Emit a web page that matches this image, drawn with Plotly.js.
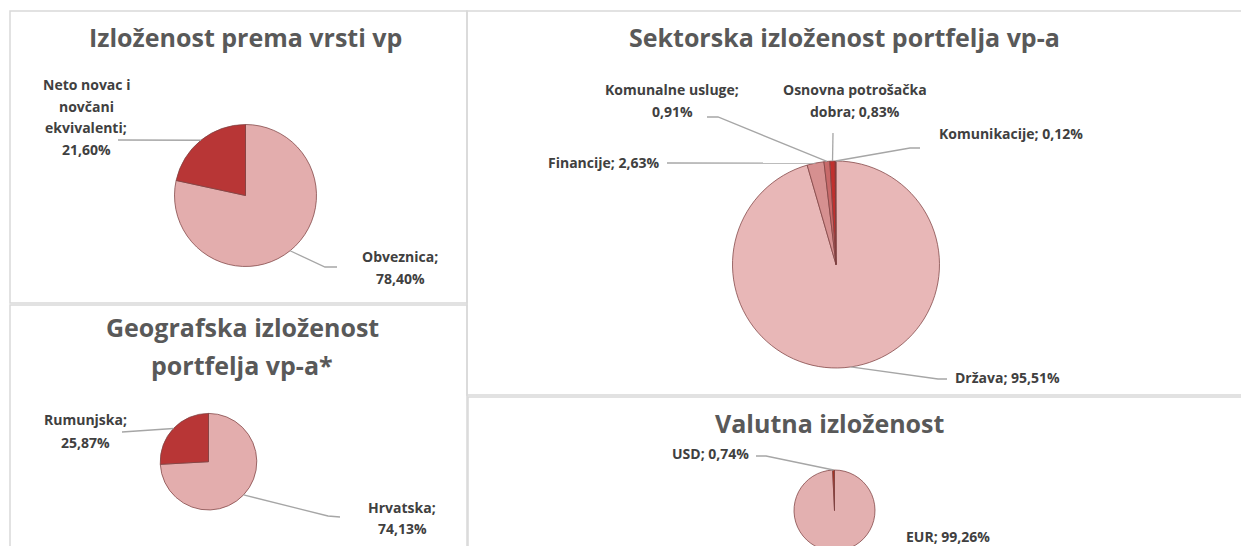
<!DOCTYPE html>
<html>
<head>
<meta charset="utf-8">
<script src="https://cdn.plot.ly/plotly-3.0.1.min.js"></script>
<style>
  html, body { margin: 0; padding: 0; background: #ffffff; overflow: hidden; }
  #chart { width: 1241px; height: 560px; }
</style>
</head>
<body>
<div id="chart"></div>
<script>
// ---------------- DATA ----------------
const vrstaLabels = ['Obveznica', 'Neto novac i novčani ekvivalenti'];
const vrstaValues = [78.40, 21.60];
const vrstaText = [['Obveznica;', ''], ['Neto novac i', 'novčani', 'ekvivalenti;', '']];

const geoLabels = ['Hrvatska', 'Rumunjska'];
const geoValues = [74.13, 25.87];
const geoText = [['Hrvatska;', ''], ['Rumunjska;', '']];

const sektorLabels = ['Država', 'Financije', 'Komunalne usluge', 'Osnovna potrošačka dobra', 'Komunikacije'];
const sektorValues = [95.51, 2.63, 0.91, 0.83, 0.12];
const sektorText = [['Država;'], ['Financije;'], ['Komunalne usluge;', ''], ['Osnovna potrošačka', 'dobra;'], ['Komunikacije;']];

const valutaLabels = ['EUR', 'USD'];
const valutaValues = [99.26, 0.74];
const valutaText = [['EUR;'], ['USD;']];

const titles = {
  vrsta: ['Izloženost prema vrsti vp'],
  geo: ['Geografska izloženost', 'portfelja vp-a*'],
  sektor: ['Sektorska izloženost portfelja vp-a'],
  valuta: ['Valutna izloženost']
};

// ---------------- LAYOUT CONFIG (pixels) ----------------
const W = 1241, H = 560;
const FONT = '"Open Sans", Lato, sans-serif';
const TITLE_SIZE = 25;
const LABEL_SIZE = 14;
const TITLE_COLOR = '#595959';
const LABEL_COLOR = '#404040';
const LEADER_COLOR = '#a6a6a6';
const BORDER_COLOR = '#d9d9d9';

const pies = [
  {
    key: 'vrsta', labels: vrstaLabels, values: vrstaValues, text: vrstaText,
    cx: 245.5, cy: 195.5, r: 71,
    colors: ['#e3adad', '#b83636'],
    title: { x: 245, y0: 37, dy: 38 },
    place: [
      { x: 400, y0: 257, dy: 21.5, leader: [[337, 267], [325, 267]] },
      { x: 86, y0: 84, dy: 22, leader: [[118, 140]] }
    ]
  },
  {
    key: 'geo', labels: geoLabels, values: geoValues, text: geoText,
    cx: 208.5, cy: 461.7, r: 48.3,
    colors: ['#e3adad', '#b83636'],
    title: { x: 242, y0: 327, dy: 38 },
    place: [
      { x: 402, y0: 507, dy: 21.5, leader: [[340, 517], [328, 516]] },
      { x: 85, y0: 419, dy: 23, leader: [[122, 432]] }
    ]
  },
  {
    key: 'sektor', labels: sektorLabels, values: sektorValues, text: sektorText,
    cx: 836, cy: 264.5, r: 103.5,
    colors: ['#e8b7b7', '#d69090', '#c86a6a', '#c0302e', '#9e1f1f'],
    title: { x: 845, y0: 37, dy: 38 },
    place: [
      { x: 1007, y0: 377, dy: 22, leader: [[947, 379], [938, 379]] },
      { x: 603, y0: 162, dy: 22, leader: [[667, 163]] },
      { x: 672, y0: 90, dy: 22, leader: [[707, 117], [718, 117]] },
      { x: 855, y0: 90, dy: 22, leader: [[833, 133]] },
      { x: 1011, y0: 133, dy: 22, leader: [[920, 148], [910, 148]] }
    ]
  },
  {
    key: 'valuta', labels: valutaLabels, values: valutaValues, text: valutaText,
    cx: 834.5, cy: 510.5, r: 40.5,
    colors: ['#e3b0b0', '#b0301e'],
    title: { x: 830, y0: 423, dy: 38 },
    place: [
      { x: 948, y0: 536, dy: 22, leader: null },
      { x: 710, y0: 453, dy: 22, leader: [[756, 456], [766, 456]] }
    ]
  }
];

const panels = [
  [10, 11, 467, 303],
  [10, 305, 467, 600],
  [467, 11, 1245, 395],
  [468, 397, 1245, 600]
];

// ---------------- HELPERS ----------------
const px = x => x / W;
const py = y => 1 - y / H;
const fmtPct = v => v.toFixed(2).replace('.', ',') + '%';

const traces = [];
const annotations = [];
const shapes = [];

panels.forEach(p => {
  shapes.push({
    type: 'rect', xref: 'paper', yref: 'paper',
    x0: px(p[0]), x1: px(p[2]), y0: py(p[1]), y1: py(p[3]),
    line: { color: BORDER_COLOR, width: 1.5 }, fillcolor: 'rgba(0,0,0,0)', layer: 'below'
  });
});

pies.forEach(pie => {
  traces.push({
    type: 'pie',
    labels: pie.labels,
    values: pie.values,
    sort: false,
    direction: 'clockwise',
    rotation: 0,
    textinfo: 'none',
    hoverinfo: 'label+percent',
    showlegend: false,
    marker: { colors: pie.colors, line: { color: 'rgba(125,65,65,0.75)', width: 1 } },
    domain: {
      x: [px(pie.cx - pie.r), px(pie.cx + pie.r)],
      y: [py(pie.cy + pie.r), py(pie.cy - pie.r)]
    }
  });

  titles[pie.key].forEach((line, i) => {
    annotations.push({
      xref: 'paper', yref: 'paper', x: px(pie.title.x), y: py(pie.title.y0 + i * pie.title.dy),
      xanchor: 'center', yanchor: 'middle', showarrow: false,
      text: line,
      font: { family: FONT, size: TITLE_SIZE, color: TITLE_COLOR, weight: 700 }
    });
  });

  const total = pie.values.reduce((a, b) => a + b, 0);
  let cum = 0;
  pie.values.forEach((v, i) => {
    const midFrac = (cum + v / 2) / total;
    cum += v;
    const ang = midFrac * 2 * Math.PI;
    const ex = pie.cx + pie.r * Math.sin(ang);
    const ey = pie.cy - pie.r * Math.cos(ang);

    const lines = pie.text[i].slice();
    const last = lines.length - 1;
    lines[last] = lines[last] === '' ? fmtPct(v) : lines[last] + ' ' + fmtPct(v);
    const pl = pie.place[i];
    lines.forEach((line, j) => {
      annotations.push({
        xref: 'paper', yref: 'paper', x: px(pl.x), y: py(pl.y0 + j * pl.dy),
        xanchor: 'center', yanchor: 'middle', showarrow: false,
        text: line,
        font: { family: FONT, size: LABEL_SIZE, color: LABEL_COLOR, weight: 700 }
      });
    });

    if (pl.leader) {
      const pts = pl.leader.concat([[ex, ey]]);
      const path = pts.map((p, k) => (k === 0 ? 'M ' : 'L ') + px(p[0]) + ',' + py(p[1])).join(' ');
      shapes.push({
        type: 'path', xref: 'paper', yref: 'paper', path: path,
        line: { color: LEADER_COLOR, width: 1.3 }, layer: 'above'
      });
    }
  });
});

const layout = {
  width: W, height: H,
  margin: { l: 0, r: 0, t: 0, b: 0 },
  paper_bgcolor: '#ffffff',
  plot_bgcolor: '#ffffff',
  showlegend: false,
  shapes: shapes,
  annotations: annotations,
  font: { family: FONT }
};

Plotly.newPlot('chart', traces, layout, { displayModeBar: false, staticPlot: true });
</script>
</body>
</html>
